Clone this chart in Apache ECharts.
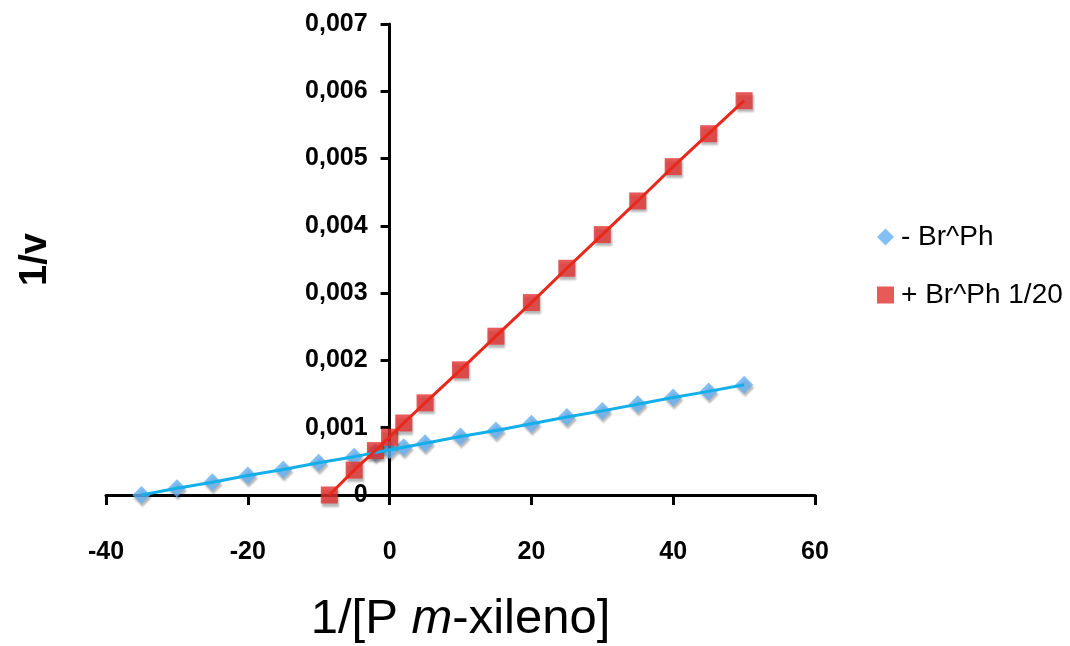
<!DOCTYPE html>
<html><head><meta charset="utf-8">
<script src="https://cdn.jsdelivr.net/npm/echarts@6/dist/echarts.min.js"></script>
<style>html,body{margin:0;padding:0;background:#fff}#c{width:1070px;height:646px}</style>
</head><body><div id="c"></div>
<script>
const seriesNames = ['- Br^Ph', '+ Br^Ph 1/20'];
const xBlue = [-35, -30, -25, -20, -15, -10, -5, -2, 0, 2, 5, 10, 15, 20, 25, 30, 35, 40, 45, 50];
const yBlue = [0.0000, 0.0001, 0.00019, 0.00029, 0.00038, 0.00048, 0.00057, 0.00063, 0.00067, 0.00071, 0.00077, 0.00087, 0.00096, 0.00106, 0.00116, 0.00125, 0.00135, 0.00145, 0.00154, 0.00164];
const xRed = [-8.5, -5, -2, 0, 2, 5, 10, 15, 20, 25, 30, 35, 40, 45, 50];
const yRed = [0.0000, 0.00037, 0.00066, 0.00086, 0.00107, 0.00137, 0.00186, 0.00236, 0.00286, 0.00337, 0.00387, 0.00437, 0.00488, 0.00537, 0.00586];
const xTicks = {min: -40, max: 60, interval: 20};
const yTicks = {min: 0, max: 0.007, interval: 0.001};

const font = "'Liberation Sans', Arial, sans-serif";
const pair = (xs, ys) => xs.map((x, i) => [x, ys[i]]);
const shadow = {shadowColor: 'rgba(0,0,0,0.35)', shadowBlur: 2, shadowOffsetX: 1, shadowOffsetY: 3};

const gridLeft = 106, gridRight = 255, W = 1070;
// place the y axis (with its labels) at x = 0 of the x scale
const plotW = W - gridLeft - gridRight;
const yAxisOffset = -plotW * (0 - xTicks.min) / (xTicks.max - xTicks.min);

const chart = echarts.init(document.getElementById('c'), null, {renderer: 'canvas'});
chart.setOption({
  animation: false,
  backgroundColor: '#fff',
  grid: {left: gridLeft, right: gridRight, top: 24, bottom: 151, containLabel: false, outerBoundsMode: 'none'},
  legend: {
    data: seriesNames,
    orient: 'vertical',
    left: 872, top: 218,
    itemWidth: 17, itemHeight: 17, itemGap: 30,
    itemStyle: {shadowColor: 'transparent', shadowBlur: 0, shadowOffsetX: 0, shadowOffsetY: 0},
    textStyle: {fontFamily: font, fontSize: 28, color: '#000', padding: [0, 0, 0, 2]}
  },
  xAxis: {
    type: 'value', min: xTicks.min, max: xTicks.max, interval: xTicks.interval,
    name: '1/[P {i|m}-xileno]', nameLocation: 'middle', nameGap: 100,
    nameTextStyle: {fontFamily: font, fontSize: 49, color: '#000',
      rich: {i: {fontFamily: font, fontSize: 49, fontStyle: 'italic', color: '#000'}}},
    splitLine: {show: false},
    axisLine: {onZero: true, lineStyle: {color: '#000', width: 3}},
    axisTick: {show: true, length: 10, inside: false, lineStyle: {color: '#000', width: 3}},
    axisLabel: {margin: 45, fontFamily: font, fontWeight: 'bold', fontSize: 25, color: '#000'}
  },
  yAxis: {
    type: 'value', min: yTicks.min, max: yTicks.max, interval: yTicks.interval,
    position: 'left', offset: yAxisOffset,
    name: '1/v', nameLocation: 'middle', nameGap: 335, nameRotate: 90,
    nameTextStyle: {fontFamily: font, fontWeight: 'bold', fontSize: 38, color: '#000'},
    splitLine: {show: false},
    axisLine: {onZero: false, lineStyle: {color: '#000', width: 3}},
    axisTick: {show: true, length: 9, lineStyle: {color: '#000', width: 3}},
    axisLabel: {margin: 22, fontFamily: font, fontWeight: 'bold', fontSize: 25, color: '#000',
      formatter: v => v === 0 ? '0' : v.toFixed(3).replace('.', ',')}
  },
  series: [
    {name: seriesNames[0], type: 'scatter', symbol: 'diamond', symbolSize: 18, z: 2,
     itemStyle: Object.assign({color: '#66b0f2'}, shadow), data: pair(xBlue, yBlue)},
    {name: seriesNames[1], type: 'scatter', symbol: 'rect', symbolSize: 17, z: 2,
     itemStyle: Object.assign({color: '#e2302f'}, shadow), data: pair(xRed, yRed)},
    {name: 'blueLine', type: 'line', showSymbol: false, symbol: 'none', z: 3,
     lineStyle: {color: '#14afe9', width: 3}, data: pair(xBlue, yBlue)},
    {name: 'redLine', type: 'line', showSymbol: false, symbol: 'none', z: 3,
     lineStyle: {color: '#e8281b', width: 3}, data: pair(xRed, yRed)}
  ]
});
</script></body></html>
